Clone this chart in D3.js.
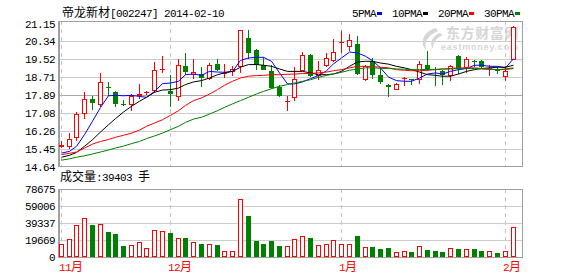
<!DOCTYPE html>
<html>
<head>
<meta charset="utf-8">
<script src="https://cdn.jsdelivr.net/npm/d3@7/dist/d3.min.js"></script>
<style>
  body { margin: 0; background: #fff; }
  svg text { font-family: "Liberation Mono", "Noto Sans CJK SC", monospace; font-size: 11px; letter-spacing: -0.6px; }
</style>
</head>
<body>
<svg width="578" height="276"></svg>
<script>
// trading days shown
const dates = [
  "2013-11-12","2013-11-13","2013-11-14","2013-11-15","2013-11-18","2013-11-19","2013-11-20","2013-11-21","2013-11-22",
  "2013-11-25","2013-11-26","2013-11-27","2013-11-28","2013-11-29",
  "2013-12-02","2013-12-03","2013-12-04","2013-12-05","2013-12-06","2013-12-09","2013-12-10","2013-12-11","2013-12-12",
  "2013-12-13","2013-12-16","2013-12-17","2013-12-18","2013-12-19","2013-12-20","2013-12-23","2013-12-24","2013-12-25",
  "2013-12-26","2013-12-27","2013-12-30","2013-12-31",
  "2014-01-02","2014-01-03","2014-01-06","2014-01-07","2014-01-08","2014-01-09","2014-01-10","2014-01-13","2014-01-14",
  "2014-01-15","2014-01-16","2014-01-17","2014-01-20","2014-01-21","2014-01-22","2014-01-23","2014-01-24","2014-01-27",
  "2014-01-28","2014-01-29","2014-01-30",
  "2014-02-07","2014-02-10"
];

const open = [15.53,15.53,15.94,17.03,17.73,17.44,18.27,18.03,17.50,17.44,17.83,17.97,18.06,19.05,18.09,17.79,19.22,18.79,18.85,18.64,
  19.32,18.85,18.93,19.17,20.49,19.96,19.28,18.97,18.27,17.59,17.76,19.00,19.73,18.75,19.20,19.43,20.29,20.07,20.23,18.58,
  19.43,18.79,18.37,18.12,18.62,18.61,18.59,19.28,19.06,18.97,18.75,19.69,19.13,19.43,19.46,19.10,19.08,18.72,19.50];
const high = [15.81,16.16,17.12,18.02,17.83,18.90,18.49,18.06,17.67,17.96,18.40,18.09,19.38,19.69,18.82,19.55,19.81,19.55,19.16,19.35,
  19.54,19.30,19.20,20.86,20.87,20.01,19.63,19.28,18.37,17.83,19.17,19.85,19.78,19.45,19.81,20.43,20.80,20.69,20.57,19.28,
  19.58,19.16,18.40,18.43,18.70,18.64,19.46,19.91,19.16,19.05,19.28,19.73,19.64,19.51,19.51,19.26,19.16,19.20,21.02];
const low = [15.48,15.45,15.78,16.82,17.23,17.33,17.83,17.33,17.39,17.18,17.70,17.88,17.99,18.90,17.36,17.62,18.82,18.62,18.24,18.59,
  18.97,18.67,18.78,18.90,19.55,19.02,19.02,18.18,17.80,17.15,17.64,18.97,18.72,18.59,19.16,19.40,19.81,19.91,18.82,18.52,
  18.64,18.41,17.79,18.11,18.29,18.35,18.41,18.97,18.29,18.37,18.55,18.85,18.90,19.17,19.13,18.75,18.85,18.55,19.47];
const close = [15.63,15.89,17.03,17.73,17.53,18.49,18.26,17.49,17.42,17.83,17.94,18.03,19.05,19.08,17.94,19.28,18.93,18.94,18.67,19.25,
  19.02,18.88,19.08,20.86,19.81,19.28,19.05,18.21,17.83,17.62,18.64,19.72,18.75,19.03,19.58,19.85,20.32,20.42,18.85,19.23,
  18.79,18.47,18.27,18.40,18.65,18.58,19.31,19.02,19.03,18.82,19.20,19.08,19.55,19.40,19.16,19.13,18.97,19.00,20.98];
const volume = [15400,21200,37400,45500,36600,38600,28500,26200,12300,14300,17700,10800,31600,30500,27400,
  22400,22400,17700,14700,15400,13500,7300,7300,67500,47100,18100,14700,18100,12300,13100,
  21200,24700,21600,14300,15400,20100,15400,15400,23900,12000,11200,8900,10000,6200,7300,
  5400,13100,7700,6600,5400,10800,8900,9600,8900,6600,7300,4300,6600,34400];

const ma5 = [15.25,15.33,15.56,16.09,16.70,17.33,17.86,17.88,17.86,17.88,17.83,17.79,18.06,18.41,18.44,18.52,18.82,18.85,18.79,18.97,
  18.94,18.93,18.97,19.47,19.58,19.61,19.61,19.43,18.90,18.40,18.40,18.49,18.64,18.78,19.00,19.31,19.58,19.85,19.81,19.66,
  19.46,19.13,18.71,18.55,18.52,18.52,18.67,18.85,18.90,18.85,18.97,19.05,19.10,19.25,19.25,19.20,19.20,19.13,19.55];
const ma10 = [15.06,15.15,15.28,15.56,15.86,16.21,16.54,16.82,17.12,17.38,17.61,17.79,18.02,18.12,18.14,18.21,18.37,18.49,18.55,18.67,
  18.82,18.90,18.97,19.16,19.28,19.28,19.25,19.20,19.08,18.97,18.97,18.97,18.90,18.82,18.82,18.85,18.97,19.20,19.40,19.43,
  19.43,19.35,19.30,19.20,19.13,19.05,18.94,18.82,18.79,18.75,18.75,18.85,18.97,19.05,19.10,19.13,19.16,19.16,19.25];
const ma20 = [15.18,15.24,15.30,15.48,15.66,15.78,15.87,15.97,16.06,16.16,16.30,16.47,16.62,16.77,16.97,17.18,17.42,17.64,17.76,17.94,
  18.14,18.34,18.52,18.67,18.75,18.78,18.79,18.82,18.82,18.84,18.85,18.87,18.88,18.90,18.94,19.00,19.05,19.13,19.20,19.20,
  19.19,19.16,19.13,19.05,19.02,19.00,19.00,19.02,19.05,19.08,19.10,19.13,19.13,19.13,19.10,19.08,19.05,19.05,19.10];
const ma30 = [14.93,14.99,15.06,15.13,15.21,15.30,15.39,15.48,15.57,15.68,15.78,15.91,16.03,16.16,16.32,16.47,16.65,16.80,16.88,17.03,
  17.18,17.33,17.49,17.64,17.79,17.94,18.06,18.18,18.29,18.37,18.44,18.52,18.59,18.70,18.79,18.85,18.93,19.02,19.08,19.13,
  19.13,19.11,19.10,19.08,19.07,19.05,19.05,19.06,19.06,19.08,19.08,19.10,19.10,19.10,19.08,19.06,19.05,19.08,19.13];

const priceTicks = [21.15, 20.34, 19.52, 18.71, 17.89, 17.08, 16.26, 15.45, 14.64];
const volTicks = [78675, 59006, 39337, 19669, 0];
const monthDates = ["2013-11-12", "2013-12-02", "2014-01-02", "2014-02-07"];
const monthLabels = ["11月", "12月", "1月", "2月"];
const maNames = ["5PMA", "10PMA", "20PMA", "30PMA"];
const maColors = ["#0000ff", "#000000", "#ff0000", "#008000"];

const title = "帝龙新材[002247] 2014-02-10";
const volTitle = "成交量:39403 手";

const UP = "#ff0000", DOWN = "#008000";

const svg = d3.select("svg");
const plotL = 59, plotR = 522;
const pTop = 21, pBot = 166;
const vTop = 189, vBot = 257;

const x = d3.scaleBand().domain(dates).range([56.9, 516.5]);
const cx = d => Math.round(x(d) + x.bandwidth() / 2);
const y = d3.scaleLinear().domain([14.64, 21.15]).range([166.5, 23.5]);
const yv = d3.scaleLinear().domain([0, 78675]).range([vBot, vTop]);

// CJK chars slightly larger than latin, like the bitmap font
function mixed(sel, str) {
  str.split(/([\u4e00-\u9fff]+)/).filter(s => s.length).forEach(s => {
    const t = sel.append("tspan").text(s);
    if (/[\u4e00-\u9fff]/.test(s)) t.style("font-size", "12px").style("letter-spacing", "0px");
  });
  return sel;
}

// grid lines
svg.append("g").selectAll("line")
  .data(priceTicks.slice(1, -1))
  .enter().append("line")
  .attr("x1", plotL).attr("x2", plotR)
  .attr("y1", d => Math.round(y(d)) + 0.5).attr("y2", d => Math.round(y(d)) + 0.5)
  .attr("stroke", (d, i) => i === 3 ? "#a8a8a8" : "#cccccc");

svg.append("g").selectAll("line")
  .data(volTicks.slice(1, -1))
  .enter().append("line")
  .attr("x1", plotL).attr("x2", plotR)
  .attr("y1", d => Math.round(yv(d)) + 0.5).attr("y2", d => Math.round(yv(d)) + 0.5)
  .attr("stroke", "#cccccc");

// month separators
const seps = svg.append("g").attr("stroke", "#c4c4c4").attr("stroke-dasharray", "4,4");
monthDates.forEach(d => {
  seps.append("line").attr("x1", cx(d) + 0.5).attr("x2", cx(d) + 0.5).attr("y1", pTop).attr("y2", pBot);
  seps.append("line").attr("x1", cx(d) + 0.5).attr("x2", cx(d) + 0.5).attr("y1", vTop).attr("y2", vBot);
});

// watermark
const wm = svg.append("g").attr("fill", "#d6d6d6");
wm.append("path").attr("d", "M436,28 C424,31 419,42 426,50 C424,42 428,35 438,31 Z M440,33 C432,36 429,43 433,49 C433,43 436,38 443,35 Z");
wm.append("text").attr("x", 446).attr("y", 38).text("东方财富网")
  .style("font-size", "14px").style("font-weight", "bold").style("letter-spacing", "0.6px");
wm.append("text").attr("x", 441).attr("y", 50).text("eastmoney.com")
  .style("font-family", "Liberation Sans, Arial, sans-serif").style("font-size", "9px")
  .style("font-weight", "bold").style("letter-spacing", "0.8px");

// frames
const frame = svg.append("g").attr("fill", "none").attr("stroke", "#a0a0a0");
frame.append("rect").attr("x", plotL + 0.5).attr("y", pTop + 0.5).attr("width", plotR - plotL).attr("height", pBot - pTop);
frame.append("rect").attr("x", plotL + 0.5).attr("y", vTop + 0.5).attr("width", plotR - plotL).attr("height", vBot - vTop);
frame.append("line").attr("x1", plotL - 0.5).attr("x2", plotL - 0.5).attr("y1", pTop).attr("y2", pBot + 1);
frame.append("line").attr("x1", plotL - 0.5).attr("x2", plotL - 0.5).attr("y1", vTop).attr("y2", vBot + 1);

// candles
const candles = svg.append("g").attr("shape-rendering", "crispEdges");
dates.forEach((d, i) => {
  const c = cx(d);
  const up = close[i] >= open[i];
  const col = up ? UP : DOWN;
  const yt = Math.round(y(Math.max(open[i], close[i])));
  const yb = Math.round(y(Math.min(open[i], close[i])));
  const yh = Math.round(y(high[i])), yl = Math.round(y(low[i]));
  if (yb - yt < 2) {
    candles.append("line").attr("x1", c + 0.5).attr("x2", c + 0.5).attr("y1", yh).attr("y2", yl).attr("stroke", col);
    candles.append("line").attr("x1", c - 2).attr("x2", c + 3).attr("y1", yt + 0.5).attr("y2", yt + 0.5).attr("stroke", col);
  } else if (up) {
    candles.append("line").attr("x1", c + 0.5).attr("x2", c + 0.5).attr("y1", yh).attr("y2", yt).attr("stroke", col);
    candles.append("line").attr("x1", c + 0.5).attr("x2", c + 0.5).attr("y1", yb).attr("y2", yl).attr("stroke", col);
    candles.append("rect").attr("x", c - 1.5).attr("y", yt + 0.5).attr("width", 4).attr("height", yb - yt - 1)
      .attr("fill", "#fff").attr("stroke", col);
  } else {
    candles.append("line").attr("x1", c + 0.5).attr("x2", c + 0.5).attr("y1", yh).attr("y2", yl).attr("stroke", col);
    candles.append("rect").attr("x", c - 2).attr("y", yt).attr("width", 5).attr("height", yb - yt).attr("fill", col);
  }
});

// moving averages
const maLine = d3.line().x((v, i) => cx(dates[i]) + 0.5).y(v => y(v));
[ma5, ma10, ma20, ma30].forEach((s, k) => {
  svg.append("path").datum(s).attr("d", maLine)
    .attr("fill", "none").attr("stroke", maColors[k]).attr("stroke-width", 1);
});

// volume bars
const vols = svg.append("g").attr("shape-rendering", "crispEdges");
dates.forEach((d, i) => {
  const c = cx(d);
  const top = Math.round(yv(volume[i]));
  if (close[i] >= open[i]) {
    vols.append("rect").attr("x", c - 1.5).attr("y", top + 0.5).attr("width", 4).attr("height", vBot - top - 1)
      .attr("fill", "#fff").attr("stroke", UP);
  } else {
    vols.append("rect").attr("x", c - 2).attr("y", top).attr("width", 5).attr("height", vBot - top).attr("fill", DOWN);
  }
});

// axes labels
const yAxis = svg.append("g").attr("transform", `translate(${plotL},0)`)
  .call(d3.axisLeft(y).tickValues(priceTicks).tickFormat(d3.format(".2f")).tickSize(0).tickPadding(4));
yAxis.select(".domain").remove();
yAxis.selectAll("text").attr("fill", "#000");

const vAxis = svg.append("g").attr("transform", `translate(${plotL},0)`)
  .call(d3.axisLeft(yv).tickValues(volTicks).tickFormat(d3.format("d")).tickSize(0).tickPadding(4));
vAxis.select(".domain").remove();
vAxis.selectAll("text").attr("fill", "#000");

// month labels
monthDates.forEach((d, i) => {
  mixed(svg.append("text").attr("x", cx(d) - 2).attr("y", 271).attr("fill", "#ff0000"), monthLabels[i]);
});

// titles
mixed(svg.append("text").attr("x", 62).attr("y", 17), title);
mixed(svg.append("text").attr("x", 60).attr("y", 181), volTitle);

// legend
let lx = 352;
maNames.forEach((n, k) => {
  svg.append("text").attr("x", lx).attr("y", 17).text(n);
  const w = n.length * 6;
  svg.append("rect").attr("x", lx + w + 1).attr("y", 12).attr("width", 5).attr("height", 3).attr("fill", maColors[k]);
  lx += w + 16;
});
</script>
</body>
</html>
